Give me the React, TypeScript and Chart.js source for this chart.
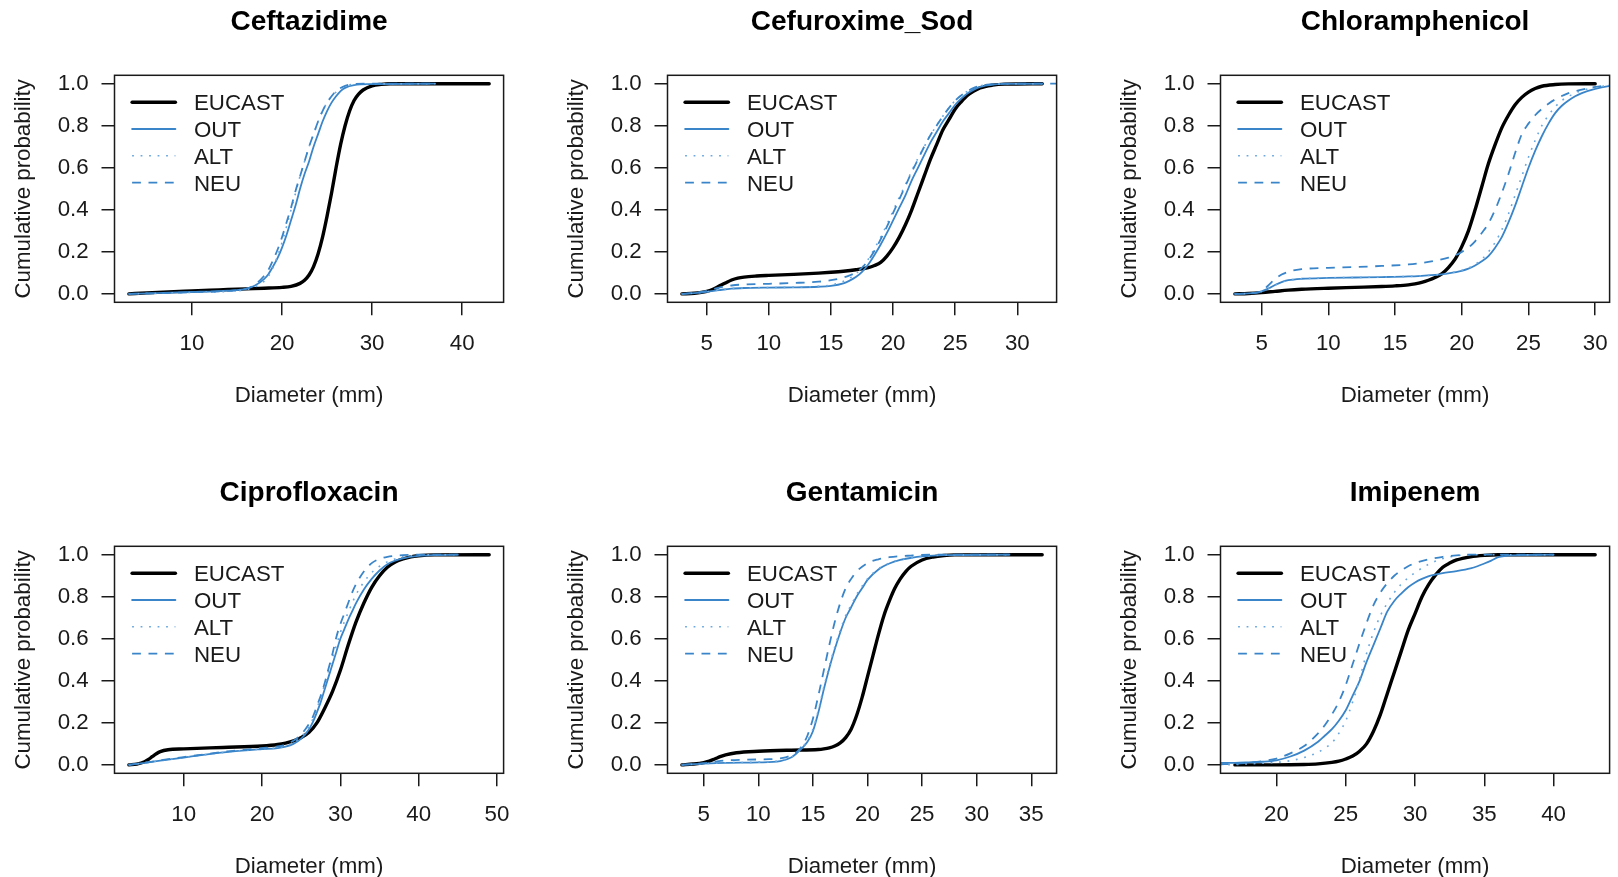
import { useEffect, useRef } from "react";
import { Chart, registerables } from "chart.js";

Chart.register(...registerables);

type Pt = [number, number];

const FONT = "'Liberation Sans', Arial, Helvetica, sans-serif";
Chart.defaults.font.family = FONT;

// ---------- data ----------
const SERIES_NAMES = ["EUCAST", "OUT", "ALT", "NEU"];
const Y_TICKS = [0, 0.2, 0.4, 0.6, 0.8, 1.0];
const X_LABEL = "Diameter (mm)";
const Y_LABEL = "Cumulative probability";

// Ceftazidime
const ceftazidimeTicks = [10, 20, 30, 40];
const ceftazidimeEucast: Pt[] = [[3,0],[5,0.005],[8,0.011],[10,0.014],[13,0.019],[16,0.024],[18,0.027],[20,0.031],[21,0.036],[22,0.05],[22.5,0.065],[23,0.09],[23.5,0.13],[24,0.19],[24.5,0.27],[25,0.37],[25.5,0.48],[26,0.6],[26.5,0.71],[27,0.8],[27.5,0.87],[28,0.92],[28.5,0.95],[29,0.97],[30,0.99],[31,0.997],[32,1],[43,1]];
const ceftazidimeOut: Pt[] = [[3,0],[6,0.004],[10,0.009],[14,0.016],[16,0.024],[17,0.04],[18,0.07],[18.5,0.095],[19,0.13],[19.5,0.17],[20,0.22],[20.5,0.28],[21,0.35],[21.5,0.42],[22,0.5],[22.5,0.57],[23,0.63],[23.5,0.7],[24,0.76],[24.5,0.82],[25,0.87],[25.5,0.91],[26,0.94],[26.5,0.965],[27,0.98],[28,0.993],[30,0.998],[37,1]];
const ceftazidimeAlt: Pt[] = [[3,0],[6,0.003],[10,0.007],[14,0.012],[16,0.02],[17,0.033],[18,0.06],[18.5,0.085],[19,0.125],[19.5,0.18],[20,0.245],[20.5,0.32],[21,0.4],[21.5,0.48],[22,0.56],[22.5,0.63],[23,0.7],[23.5,0.76],[24,0.82],[24.5,0.87],[25,0.91],[25.5,0.94],[26,0.96],[26.5,0.975],[27,0.99],[28,0.997],[30,1],[37,1]];
const ceftazidimeNeu: Pt[] = [[3,0],[6,0.003],[10,0.008],[14,0.014],[16,0.024],[17,0.045],[18,0.085],[18.5,0.115],[19,0.16],[19.5,0.21],[20,0.27],[20.5,0.34],[21,0.41],[21.5,0.49],[22,0.56],[22.5,0.63],[23,0.7],[23.5,0.76],[24,0.82],[24.5,0.87],[25,0.91],[25.5,0.94],[26,0.965],[26.5,0.98],[27,0.99],[28,0.998],[30,1],[37,1]];

// Cefuroxime_Sod
const cefuroximeTicks = [5, 10, 15, 20, 25, 30];
const cefuroximeEucast: Pt[] = [[3,0],[4,0.003],[5,0.012],[5.5,0.022],[6,0.037],[6.5,0.052],[7,0.066],[7.5,0.075],[8,0.08],[9,0.085],[10,0.088],[12,0.093],[14,0.099],[15,0.103],[16,0.108],[17,0.115],[18,0.125],[18.5,0.135],[19,0.15],[19.5,0.18],[20,0.22],[20.5,0.27],[21,0.33],[21.5,0.4],[22,0.48],[22.5,0.56],[23,0.64],[23.5,0.71],[24,0.78],[24.5,0.83],[25,0.88],[25.5,0.915],[26,0.945],[26.5,0.965],[27,0.98],[28,0.993],[29,0.998],[32,1]];
const cefuroximeOut: Pt[] = [[3,0],[4,0.004],[5,0.01],[6,0.018],[7,0.025],[8,0.028],[10,0.03],[12,0.031],[14,0.034],[15,0.038],[16,0.05],[16.5,0.063],[17,0.08],[17.5,0.105],[18,0.14],[18.5,0.185],[19,0.235],[19.5,0.29],[20,0.35],[20.5,0.41],[21,0.47],[21.5,0.54],[22,0.6],[22.5,0.66],[23,0.72],[23.5,0.77],[24,0.82],[24.5,0.86],[25,0.9],[25.5,0.93],[26,0.955],[26.5,0.972],[27,0.985],[28,0.996],[29,0.999],[32,1]];
const cefuroximeAlt: Pt[] = [[3,0],[4,0.004],[5,0.01],[6,0.018],[7,0.025],[8,0.028],[10,0.03],[12,0.032],[14,0.036],[15,0.042],[16,0.06],[16.5,0.075],[17,0.095],[17.5,0.125],[18,0.165],[18.5,0.215],[19,0.27],[19.5,0.33],[20,0.395],[20.5,0.46],[21,0.52],[21.5,0.585],[22,0.645],[22.5,0.7],[23,0.755],[23.5,0.8],[24,0.845],[24.5,0.885],[25,0.92],[25.5,0.945],[26,0.965],[26.5,0.98],[27,0.99],[28,0.997],[29,1],[32,1]];
const cefuroximeNeu: Pt[] = [[3,0],[4,0.005],[5,0.014],[6,0.03],[7,0.04],[8,0.045],[10,0.048],[12,0.052],[14,0.058],[15,0.065],[16,0.078],[16.5,0.088],[17,0.102],[17.5,0.125],[18,0.16],[18.5,0.205],[19,0.26],[19.5,0.32],[20,0.385],[20.5,0.45],[21,0.515],[21.5,0.58],[22,0.64],[22.5,0.7],[23,0.755],[23.5,0.8],[24,0.845],[24.5,0.885],[25,0.92],[25.5,0.945],[26,0.965],[26.5,0.98],[27,0.99],[28,0.997],[29,1],[34,1]];

// Chloramphenicol
const chloramphenicolTicks = [5, 10, 15, 20, 25, 30];
const chloramphenicolEucast: Pt[] = [[3,0],[4,0.002],[5,0.006],[6,0.012],[7,0.018],[8,0.022],[10,0.027],[12,0.031],[14,0.035],[15,0.038],[16,0.043],[16.5,0.048],[17,0.055],[17.5,0.065],[18,0.078],[18.5,0.095],[19,0.125],[19.5,0.165],[20,0.225],[20.5,0.3],[21,0.4],[21.5,0.51],[22,0.62],[22.5,0.71],[23,0.79],[23.5,0.85],[24,0.9],[24.5,0.935],[25,0.96],[25.5,0.977],[26,0.988],[27,0.996],[28,0.999],[30,1]];
const chloramphenicolOut: Pt[] = [[3,0],[4,0.002],[4.5,0.005],[5,0.012],[5.5,0.025],[6,0.042],[6.5,0.056],[7,0.065],[8,0.072],[10,0.076],[12,0.078],[14,0.08],[16,0.083],[17,0.086],[18,0.09],[19,0.098],[20,0.11],[20.5,0.12],[21,0.135],[21.5,0.155],[22,0.18],[22.5,0.22],[23,0.27],[23.5,0.34],[24,0.42],[24.5,0.51],[25,0.6],[25.5,0.68],[26,0.75],[26.5,0.81],[27,0.86],[27.5,0.895],[28,0.92],[28.5,0.94],[29,0.955],[30,0.975],[31,0.988],[32,0.995]];
const chloramphenicolAlt: Pt[] = [[3,0],[4,0.002],[4.5,0.005],[5,0.012],[5.5,0.025],[6,0.042],[6.5,0.056],[7,0.065],[8,0.072],[10,0.076],[12,0.078],[14,0.08],[16,0.083],[17,0.086],[18,0.09],[19,0.098],[20,0.112],[20.5,0.123],[21,0.14],[21.5,0.165],[22,0.2],[22.5,0.245],[23,0.305],[23.5,0.38],[24,0.47],[24.5,0.56],[25,0.65],[25.5,0.73],[26,0.8],[26.5,0.85],[27,0.89],[27.5,0.92],[28,0.94],[28.5,0.955],[29,0.967],[30,0.982],[31,0.991],[32,0.996]];
const chloramphenicolNeu: Pt[] = [[3,0],[4,0.002],[5,0.012],[5.5,0.04],[6,0.07],[6.5,0.092],[7,0.105],[7.5,0.113],[8,0.118],[10,0.124],[12,0.128],[14,0.133],[16,0.14],[17,0.147],[18,0.158],[19,0.172],[19.5,0.183],[20,0.2],[20.5,0.22],[21,0.25],[21.5,0.29],[22,0.335],[22.5,0.4],[23,0.48],[23.5,0.57],[24,0.67],[24.5,0.76],[25,0.81],[25.5,0.85],[26,0.88],[26.5,0.905],[27,0.925],[28,0.955],[29,0.972],[30,0.985],[31,0.992],[32,0.996]];

// Ciprofloxacin
const ciprofloxacinTicks = [10, 20, 30, 40, 50];
const ciprofloxacinEucast: Pt[] = [[3,0],[4,0.004],[5,0.015],[5.5,0.026],[6,0.04],[6.5,0.053],[7,0.063],[8,0.072],[10,0.076],[15,0.083],[20,0.09],[22,0.097],[23,0.104],[24,0.114],[25,0.13],[26,0.155],[27,0.2],[28,0.27],[29,0.35],[30,0.45],[31,0.57],[32,0.68],[33,0.77],[34,0.845],[35,0.9],[36,0.94],[37,0.965],[38,0.98],[39,0.99],[40,0.995],[42,0.999],[49,1]];
const ciprofloxacinOut: Pt[] = [[3,0],[5,0.01],[7,0.02],[10,0.035],[13,0.05],[16,0.063],[20,0.075],[22,0.08],[23,0.087],[24,0.1],[25,0.125],[26,0.17],[26.5,0.205],[27,0.25],[27.5,0.3],[28,0.36],[28.5,0.42],[29,0.48],[29.5,0.54],[30,0.6],[30.5,0.645],[31,0.69],[31.5,0.73],[32,0.77],[33,0.835],[34,0.885],[35,0.925],[36,0.955],[37,0.972],[38,0.983],[40,0.994],[42,0.998],[45,1]];
const ciprofloxacinAlt: Pt[] = [[3,0],[5,0.01],[7,0.02],[10,0.035],[13,0.05],[16,0.063],[20,0.076],[22,0.082],[23,0.09],[24,0.105],[25,0.135],[26,0.18],[26.5,0.22],[27,0.27],[27.5,0.32],[28,0.385],[28.5,0.45],[29,0.51],[29.5,0.57],[30,0.63],[30.5,0.68],[31,0.725],[31.5,0.77],[32,0.81],[33,0.87],[34,0.915],[35,0.945],[36,0.966],[37,0.98],[38,0.99],[40,0.997],[42,1],[45,1]];
const ciprofloxacinNeu: Pt[] = [[3,0],[5,0.01],[7,0.022],[10,0.037],[13,0.052],[16,0.066],[20,0.08],[22,0.088],[23,0.097],[24,0.115],[25,0.145],[26,0.195],[26.5,0.23],[27,0.28],[27.5,0.33],[28,0.39],[28.5,0.46],[29,0.53],[29.5,0.61],[30,0.67],[30.5,0.72],[31,0.77],[31.5,0.82],[32,0.86],[33,0.92],[34,0.96],[35,0.98],[36,0.99],[38,0.998],[40,1],[45,1]];

// Gentamicin
const gentamicinTicks = [5, 10, 15, 20, 25, 30, 35];
const gentamicinEucast: Pt[] = [[3,0],[4,0.004],[5,0.011],[5.5,0.018],[6,0.028],[6.5,0.039],[7,0.048],[8,0.058],[10,0.065],[13,0.07],[15.5,0.073],[16,0.076],[16.5,0.081],[17,0.09],[17.5,0.105],[18,0.13],[18.5,0.17],[19,0.235],[19.5,0.32],[20,0.42],[20.5,0.52],[21,0.62],[21.5,0.71],[22,0.78],[22.5,0.84],[23,0.885],[23.5,0.92],[24,0.945],[25,0.975],[26,0.989],[27,0.996],[28,0.999],[36,1]];
const gentamicinOut: Pt[] = [[3,0],[5,0.006],[7,0.01],[10,0.012],[12,0.018],[13,0.035],[13.5,0.055],[14,0.08],[14.5,0.11],[15,0.16],[15.5,0.25],[16,0.36],[16.5,0.46],[17,0.55],[17.5,0.63],[18,0.7],[18.5,0.75],[19,0.8],[19.5,0.84],[20,0.88],[21,0.93],[22,0.958],[23,0.975],[24,0.985],[25,0.992],[27,0.998],[33,1]];
const gentamicinAlt: Pt[] = [[3,0],[5,0.006],[7,0.01],[10,0.013],[12,0.02],[13,0.036],[13.5,0.056],[14,0.083],[14.5,0.115],[15,0.17],[15.5,0.26],[16,0.37],[16.5,0.47],[17,0.56],[17.5,0.64],[18,0.71],[18.5,0.76],[19,0.81],[19.5,0.85],[20,0.885],[21,0.933],[22,0.96],[23,0.976],[24,0.986],[25,0.992],[27,0.998],[33,1]];
const gentamicinNeu: Pt[] = [[3,0],[5,0.008],[6,0.015],[7,0.021],[9,0.025],[11,0.027],[12,0.031],[12.5,0.036],[13,0.045],[13.5,0.06],[14,0.09],[14.5,0.14],[15,0.22],[15.5,0.33],[16,0.45],[16.5,0.57],[17,0.68],[17.5,0.77],[18,0.84],[18.5,0.885],[19,0.92],[20,0.96],[21,0.978],[22,0.988],[24,0.996],[26,1],[33,1]];

// Imipenem
const imipenemTicks = [20, 25, 30, 35, 40];
const imipenemEucast: Pt[] = [[17,0],[20,0],[22,0.002],[23,0.005],[24,0.012],[24.5,0.018],[25,0.028],[25.5,0.042],[26,0.065],[26.5,0.1],[27,0.16],[27.5,0.24],[28,0.34],[28.5,0.44],[29,0.54],[29.5,0.64],[30,0.72],[30.5,0.8],[31,0.86],[31.5,0.905],[32,0.94],[32.5,0.96],[33,0.975],[34,0.99],[35,0.997],[36,1],[43,1]];
const imipenemOut: Pt[] = [[15.9,0.01],[17,0.01],[18,0.012],[19,0.015],[20,0.022],[21,0.04],[22,0.068],[23,0.11],[23.5,0.14],[24,0.17],[24.5,0.21],[25,0.26],[25.5,0.33],[26,0.4],[26.5,0.49],[27,0.57],[27.5,0.65],[28,0.73],[28.5,0.78],[29,0.815],[29.5,0.845],[30,0.868],[30.5,0.885],[31,0.898],[31.5,0.906],[32,0.912],[33,0.922],[34,0.935],[34.5,0.945],[35,0.958],[35.5,0.972],[36,0.988],[37,0.997],[40,1]];
const imipenemAlt: Pt[] = [[15.9,0.001],[17,0.002],[18,0.005],[19,0.008],[20,0.012],[21,0.02],[22,0.035],[23,0.06],[23.5,0.08],[24,0.105],[24.5,0.15],[25,0.21],[25.5,0.3],[26,0.41],[26.5,0.53],[27,0.63],[27.5,0.71],[28,0.77],[28.5,0.82],[29,0.86],[29.5,0.89],[30,0.915],[31,0.955],[32,0.982],[33,0.995],[34,1],[40,1]];
const imipenemNeu: Pt[] = [[15.9,0.003],[17,0.005],[18,0.01],[19,0.018],[20,0.03],[21,0.055],[22,0.09],[23,0.15],[23.5,0.19],[24,0.24],[24.5,0.3],[25,0.38],[25.5,0.48],[26,0.58],[26.5,0.675],[27,0.76],[27.5,0.82],[28,0.865],[28.5,0.9],[29,0.925],[29.5,0.945],[30,0.96],[31,0.978],[32,0.99],[33,0.997],[34,1],[40,1]];

type PanelData = { title: string; ticks: number[]; series: Pt[][] };

const PANELS: PanelData[] = [
  { title: "Ceftazidime", ticks: ceftazidimeTicks, series: [ceftazidimeEucast, ceftazidimeOut, ceftazidimeAlt, ceftazidimeNeu] },
  { title: "Cefuroxime_Sod", ticks: cefuroximeTicks, series: [cefuroximeEucast, cefuroximeOut, cefuroximeAlt, cefuroximeNeu] },
  { title: "Chloramphenicol", ticks: chloramphenicolTicks, series: [chloramphenicolEucast, chloramphenicolOut, chloramphenicolAlt, chloramphenicolNeu] },
  { title: "Ciprofloxacin", ticks: ciprofloxacinTicks, series: [ciprofloxacinEucast, ciprofloxacinOut, ciprofloxacinAlt, ciprofloxacinNeu] },
  { title: "Gentamicin", ticks: gentamicinTicks, series: [gentamicinEucast, gentamicinOut, gentamicinAlt, gentamicinNeu] },
  { title: "Imipenem", ticks: imipenemTicks, series: [imipenemEucast, imipenemOut, imipenemAlt, imipenemNeu] },
];

// ---------- styles / layout ----------
const PANEL_W = 553;
const PANEL_H = 471;
const AREA_LEFT = 114.5;
const AREA_RIGHT = 503.6;
const AREA_TOP = 75.3;
const AREA_BOTTOM = 302.3;
const LABEL_SIZE = 22.3;
const TITLE_SIZE = 28;
const BLUE = "#3a85c9";
const ALT_BLUE = "#6aa8df";
const INK = "#1a1a1a";

const STYLES = [
  { color: "#000000", width: 3.4, dash: [] as number[], cap: "round", order: 4 },
  { color: BLUE, width: 1.8, dash: [] as number[], cap: "round", order: 3 },
  { color: ALT_BLUE, width: 1.6, dash: [1.8, 6.7], cap: "butt", order: 2 },
  { color: BLUE, width: 1.8, dash: [8.8, 7.6], cap: "butt", order: 1 },
];

const boxPlugin = {
  id: "rBox",
  afterDatasetsDraw(chart: any) {
    const { ctx, chartArea: a } = chart;
    ctx.save();
    ctx.strokeStyle = INK;
    ctx.lineWidth = 1.5;
    ctx.setLineDash([]);
    ctx.strokeRect(a.left, a.top, a.right - a.left, a.bottom - a.top);
    ctx.restore();
  },
};

const legendPlugin = {
  id: "rLegend",
  afterDraw(chart: any) {
    const { ctx, chartArea: a } = chart;
    chart.data.datasets.forEach((ds: any, i: number) => {
      const y = a.top + 26.9 + i * 26.8;
      ctx.save();
      ctx.strokeStyle = ds.borderColor;
      ctx.lineWidth = ds.borderWidth;
      ctx.lineCap = ds.borderCapStyle || "butt";
      ctx.setLineDash(ds.borderDash || []);
      ctx.beginPath();
      ctx.moveTo(a.left + 17.6, y);
      ctx.lineTo(a.left + 60.9, y);
      ctx.stroke();
      ctx.setLineDash([]);
      ctx.fillStyle = INK;
      ctx.font = `${LABEL_SIZE}px ${FONT}`;
      ctx.textAlign = "left";
      ctx.textBaseline = "alphabetic";
      ctx.fillText(ds.label, a.left + 79.5, y + 8);
      ctx.restore();
    });
  },
};

function Panel({ panel, left, top }: { panel: PanelData; left: number; top: number }) {
  const ref = useRef<HTMLCanvasElement | null>(null);
  useEffect(() => {
    if (!ref.current) return;
    const eu = panel.series[0];
    const x0 = eu[0][0];
    const x1 = eu[eu.length - 1][0];
    const d = x1 - x0;
    const titleLine = TITLE_SIZE * 1.2;
    const titlePadTop = 31.7 - 0.3465 * TITLE_SIZE - titleLine / 2;
    const chart = new Chart(ref.current, {
      type: "line",
      data: {
        datasets: panel.series.map((s, i) => ({
          label: SERIES_NAMES[i],
          data: s.map(([x, y]) => ({ x, y })),
          borderColor: STYLES[i].color,
          backgroundColor: STYLES[i].color,
          borderWidth: STYLES[i].width,
          borderDash: STYLES[i].dash,
          borderCapStyle: STYLES[i].cap as any,
          borderJoinStyle: "round",
          order: STYLES[i].order,
          pointRadius: 0,
          pointHoverRadius: 0,
          fill: false,
          cubicInterpolationMode: "monotone",
          clip: 0,
        })),
      },
      options: {
        responsive: false,
        animation: false,
        devicePixelRatio: 1,
        events: [],
        layout: { padding: { left: 0, right: PANEL_W - AREA_RIGHT, top: 0, bottom: 0 } },
        plugins: {
          legend: { display: false },
          tooltip: { enabled: false },
          title: {
            display: true,
            text: panel.title,
            fullSize: false,
            color: "#000",
            font: { size: TITLE_SIZE, weight: "bold", family: FONT },
            padding: { top: titlePadTop, bottom: AREA_TOP - titlePadTop - titleLine },
          },
        },
        scales: {
          x: {
            type: "linear",
            min: x0 - 0.04 * d,
            max: x1 + 0.04 * d,
            afterBuildTicks: (s: any) => {
              s.ticks = panel.ticks.map((v) => ({ value: v }));
            },
            afterFit: (s: any) => {
              s.height = PANEL_H - AREA_BOTTOM;
            },
            ticks: {
              autoSkip: false,
              maxRotation: 0,
              minRotation: 0,
              padding: 15.5,
              color: INK,
              font: { size: LABEL_SIZE, family: FONT },
              callback: (v: any) => String(v),
            },
            grid: { drawOnChartArea: false, drawTicks: true, tickLength: 13, color: INK, lineWidth: 1.5 },
            border: { display: false },
            title: {
              display: true,
              text: X_LABEL,
              color: INK,
              font: { size: LABEL_SIZE, family: FONT },
              padding: { top: 0, bottom: 61.5 },
            },
          },
          y: {
            type: "linear",
            min: -0.04,
            max: 1.04,
            afterBuildTicks: (s: any) => {
              s.ticks = Y_TICKS.map((v) => ({ value: v }));
            },
            afterFit: (s: any) => {
              s.width = AREA_LEFT;
            },
            ticks: {
              autoSkip: false,
              padding: 12.8,
              color: INK,
              font: { size: LABEL_SIZE, family: FONT },
              callback: (v: any) => Number(v).toFixed(1),
            },
            grid: { drawOnChartArea: false, drawTicks: true, tickLength: 13, color: INK, lineWidth: 1.5 },
            border: { display: false },
            title: {
              display: true,
              text: Y_LABEL,
              color: INK,
              font: { size: LABEL_SIZE, family: FONT },
              padding: { top: 10, bottom: 0 },
            },
          },
        },
      } as any,
      plugins: [boxPlugin, legendPlugin],
    });
    return () => chart.destroy();
  }, [panel]);
  return (
    <canvas
      ref={ref}
      width={PANEL_W}
      height={PANEL_H}
      style={{ position: "absolute", left, top, width: PANEL_W, height: PANEL_H, display: "block" }}
    />
  );
}

export default function App() {
  return (
    <div
      style={{
        position: "fixed",
        left: 0,
        top: 0,
        width: 1618,
        height: 877,
        overflow: "hidden",
        background: "#ffffff",
      }}
    >
      {PANELS.map((p, i) => (
        <Panel key={p.title} panel={p} left={PANEL_W * (i % 3)} top={PANEL_H * Math.floor(i / 3)} />
      ))}
    </div>
  );
}
